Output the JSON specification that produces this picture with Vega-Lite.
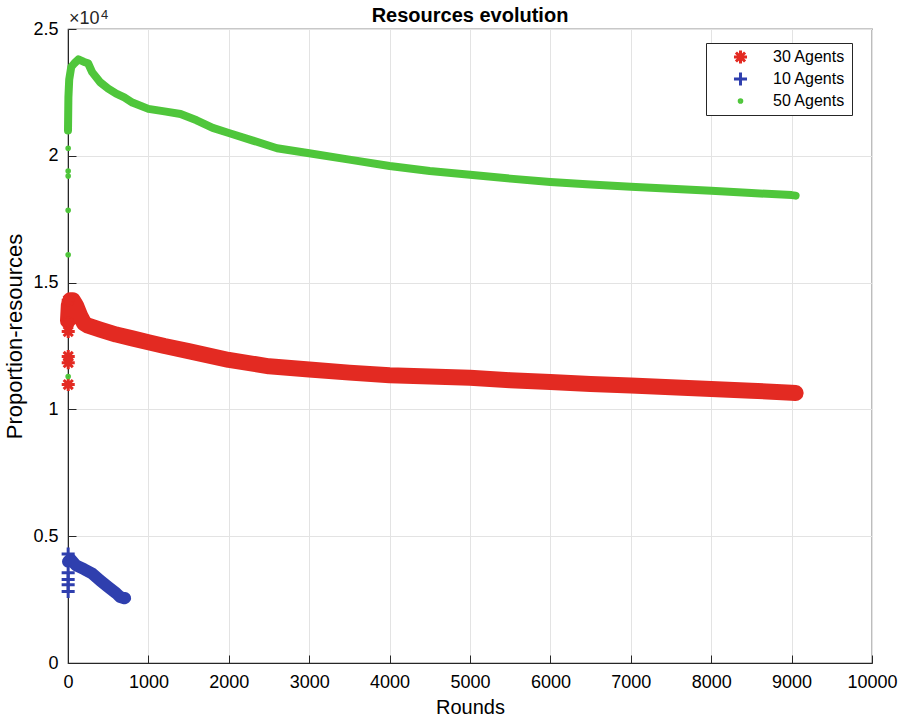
{
  "$schema": "https://vega.github.io/schema/vega-lite/v6.json",
  "width": 804,
  "height": 634,
  "autosize": {"type": "none"},
  "padding": {"left": 68, "top": 29, "right": 30, "bottom": 57},
  "background": "white",
  "title": {"text": "Resources evolution", "fontSize": 20, "fontWeight": "bold", "font": "Liberation Sans", "color": "#000000", "anchor": "middle", "offset": 5, "baseline": "bottom", "dy": 42},
  "config": {"view": {"stroke": "#262626", "strokeWidth": 1.2}, "font": "Liberation Sans"},
  "encoding": {
    "x": {"field": "x", "type": "quantitative", "scale": {"domain": [0, 10000], "nice": false},
      "axis": {"values": [0, 1000, 2000, 3000, 4000, 5000, 6000, 7000, 8000, 9000, 10000], "format": "d", "title": "Rounds", "titleFontSize": 20, "titleFontWeight": "normal", "titleColor": "#000000", "titlePadding": 6, "labelFontSize": 18, "labelColor": "#000000", "labelPadding": 18, "tickSize": -8, "tickColor": "#262626", "domainColor": "#262626", "gridColor": "#e3e3e3", "labelFlush": false}},
    "y": {"field": "y", "type": "quantitative", "scale": {"domain": [0, 25000], "nice": false},
      "axis": {"values": [0, 5000, 10000, 15000, 20000, 25000], "labelExpr": "datum.value/10000", "title": "Proportion-resources", "titleFontSize": 22, "titleFontWeight": "normal", "titleColor": "#000000", "titlePadding": 6, "titleY": 307, "labelFontSize": 18, "labelColor": "#000000", "labelPadding": 18, "tickSize": -8, "tickColor": "#262626", "domainColor": "#262626", "gridColor": "#e3e3e3", "labelFlush": false}}
  },
  "datasets": {
    "lines": [
      {"s": "50 Agents", "x": 0, "y": 21000},
      {"s": "50 Agents", "x": 5, "y": 22300},
      {"s": "50 Agents", "x": 15, "y": 23000},
      {"s": "50 Agents", "x": 40, "y": 23500},
      {"s": "50 Agents", "x": 80, "y": 23650},
      {"s": "50 Agents", "x": 130, "y": 23800},
      {"s": "50 Agents", "x": 200, "y": 23700},
      {"s": "50 Agents", "x": 250, "y": 23650},
      {"s": "50 Agents", "x": 300, "y": 23300},
      {"s": "50 Agents", "x": 400, "y": 22900},
      {"s": "50 Agents", "x": 500, "y": 22650},
      {"s": "50 Agents", "x": 600, "y": 22450},
      {"s": "50 Agents", "x": 700, "y": 22300},
      {"s": "50 Agents", "x": 800, "y": 22100},
      {"s": "50 Agents", "x": 1000, "y": 21850},
      {"s": "50 Agents", "x": 1200, "y": 21750},
      {"s": "50 Agents", "x": 1400, "y": 21650},
      {"s": "50 Agents", "x": 1600, "y": 21400},
      {"s": "50 Agents", "x": 1800, "y": 21100},
      {"s": "50 Agents", "x": 2000, "y": 20900},
      {"s": "50 Agents", "x": 2300, "y": 20600},
      {"s": "50 Agents", "x": 2600, "y": 20300},
      {"s": "50 Agents", "x": 3000, "y": 20100},
      {"s": "50 Agents", "x": 3500, "y": 19850},
      {"s": "50 Agents", "x": 4000, "y": 19600},
      {"s": "50 Agents", "x": 4500, "y": 19400},
      {"s": "50 Agents", "x": 5000, "y": 19250},
      {"s": "50 Agents", "x": 5500, "y": 19100},
      {"s": "50 Agents", "x": 6000, "y": 18970},
      {"s": "50 Agents", "x": 6500, "y": 18870},
      {"s": "50 Agents", "x": 7000, "y": 18780},
      {"s": "50 Agents", "x": 7500, "y": 18700},
      {"s": "50 Agents", "x": 8000, "y": 18620},
      {"s": "50 Agents", "x": 8500, "y": 18530},
      {"s": "50 Agents", "x": 9000, "y": 18450},
      {"s": "50 Agents", "x": 9050, "y": 18430},
      {"s": "30 Agents", "x": 0, "y": 13500},
      {"s": "30 Agents", "x": 10, "y": 14100},
      {"s": "30 Agents", "x": 30, "y": 14300},
      {"s": "30 Agents", "x": 60, "y": 14300},
      {"s": "30 Agents", "x": 100, "y": 14100},
      {"s": "30 Agents", "x": 150, "y": 13700},
      {"s": "30 Agents", "x": 200, "y": 13400},
      {"s": "30 Agents", "x": 250, "y": 13300},
      {"s": "30 Agents", "x": 400, "y": 13150},
      {"s": "30 Agents", "x": 600, "y": 12950},
      {"s": "30 Agents", "x": 800, "y": 12800},
      {"s": "30 Agents", "x": 1000, "y": 12650},
      {"s": "30 Agents", "x": 1200, "y": 12500},
      {"s": "30 Agents", "x": 1500, "y": 12300},
      {"s": "30 Agents", "x": 2000, "y": 11950},
      {"s": "30 Agents", "x": 2500, "y": 11700},
      {"s": "30 Agents", "x": 3000, "y": 11570},
      {"s": "30 Agents", "x": 3500, "y": 11450},
      {"s": "30 Agents", "x": 4000, "y": 11350},
      {"s": "30 Agents", "x": 4500, "y": 11300},
      {"s": "30 Agents", "x": 5000, "y": 11250},
      {"s": "30 Agents", "x": 5500, "y": 11150},
      {"s": "30 Agents", "x": 6000, "y": 11080},
      {"s": "30 Agents", "x": 6500, "y": 11000},
      {"s": "30 Agents", "x": 7000, "y": 10940},
      {"s": "30 Agents", "x": 7500, "y": 10870},
      {"s": "30 Agents", "x": 8000, "y": 10800},
      {"s": "30 Agents", "x": 8500, "y": 10740},
      {"s": "30 Agents", "x": 9000, "y": 10660},
      {"s": "30 Agents", "x": 9050, "y": 10650},
      {"s": "10 Agents", "x": 0, "y": 4000},
      {"s": "10 Agents", "x": 30, "y": 4100},
      {"s": "10 Agents", "x": 100, "y": 3850},
      {"s": "10 Agents", "x": 200, "y": 3700},
      {"s": "10 Agents", "x": 300, "y": 3530},
      {"s": "10 Agents", "x": 400, "y": 3250},
      {"s": "10 Agents", "x": 500, "y": 3000},
      {"s": "10 Agents", "x": 600, "y": 2750},
      {"s": "10 Agents", "x": 650, "y": 2600},
      {"s": "10 Agents", "x": 700, "y": 2550},
      {"s": "10 Agents", "x": 710, "y": 2560}
    ],
    "pts": [
      {"s": "30 Agents", "x": 3, "y": 13420},
      {"s": "30 Agents", "x": 3, "y": 13070},
      {"s": "30 Agents", "x": 3, "y": 12090},
      {"s": "30 Agents", "x": 3, "y": 11840},
      {"s": "30 Agents", "x": 3, "y": 10980},
      {"s": "30 Agents", "x": 3, "y": 14300},
      {"s": "10 Agents", "x": 2, "y": 4300},
      {"s": "10 Agents", "x": 2, "y": 3560},
      {"s": "10 Agents", "x": 2, "y": 3290},
      {"s": "10 Agents", "x": 2, "y": 3090},
      {"s": "10 Agents", "x": 2, "y": 2820},
      {"s": "50 Agents", "x": 2, "y": 11300},
      {"s": "50 Agents", "x": 2, "y": 16100},
      {"s": "50 Agents", "x": 2, "y": 17850},
      {"s": "50 Agents", "x": 2, "y": 19200},
      {"s": "50 Agents", "x": 2, "y": 19400},
      {"s": "50 Agents", "x": 2, "y": 20300},
      {"s": "50 Agents", "x": 2, "y": 21200}
    ],
    "exponent": [
      {"x": 0, "y": 25000}
    ]
  },
  "layer": [
    {
      "data": {"name": "lines"},
      "transform": [{"filter": "datum.s == '30 Agents'"}],
      "mark": {"type": "line", "strokeCap": "round", "strokeJoin": "round", "strokeWidth": 16},
      "encoding": {"color": {"field": "s", "type": "nominal", "scale": {"domain": ["30 Agents", "10 Agents", "50 Agents"], "range": ["#e32a22", "#2f3fae", "#4fc63b"]}}}
    },
    {
      "data": {"name": "lines"},
      "transform": [{"filter": "datum.s == '10 Agents'"}],
      "mark": {"type": "line", "strokeCap": "round", "strokeJoin": "round", "strokeWidth": 12},
      "encoding": {"color": {"field": "s", "type": "nominal"}}
    },
    {
      "data": {"name": "lines"},
      "transform": [{"filter": "datum.s == '50 Agents'"}],
      "mark": {"type": "line", "strokeCap": "round", "strokeJoin": "round", "strokeWidth": 8},
      "encoding": {"color": {"field": "s", "type": "nominal"}}
    },
    {
      "data": {"name": "pts"},
      "mark": {"type": "point", "filled": false, "strokeWidth": 3, "opacity": 1, "size": 170},
      "encoding": {
        "color": {"field": "s", "type": "nominal",
          "legend": {"title": null, "orient": "none", "legendX": 638, "legendY": 14, "strokeColor": "#262626", "fillColor": "#ffffff", "padding": 6, "symbolOffset": 20, "labelOffset": 24, "labelFontSize": 16, "labelColor": "#000000", "rowPadding": 6, "clipHeight": 16, "symbolSize": 170, "symbolStrokeWidth": 3, "labelFont": "Liberation Sans"}},
        "shape": {"field": "s", "type": "nominal", "scale": {"domain": ["30 Agents", "10 Agents", "50 Agents"], "range": ["M0,-1L0,1M-1,0L1,0M-0.7,-0.7L0.7,0.7M-0.7,0.7L0.7,-0.7", "M0,-1L0,1M-1,0L1,0", "M-0.2,0A0.2,0.2 0 1,0 0.2,0A0.2,0.2 0 1,0 -0.2,0Z"]}}
      }
    },
    {
      "data": {"name": "exponent"},
      "mark": {"type": "text", "text": "×10", "align": "left", "baseline": "alphabetic", "fontSize": 18, "dx": 1, "dy": -5, "color": "#262626"}
    },
    {
      "data": {"name": "exponent"},
      "mark": {"type": "text", "text": "4", "align": "left", "baseline": "alphabetic", "fontSize": 13, "dx": 33, "dy": -10, "color": "#262626"}
    }
  ]
}
